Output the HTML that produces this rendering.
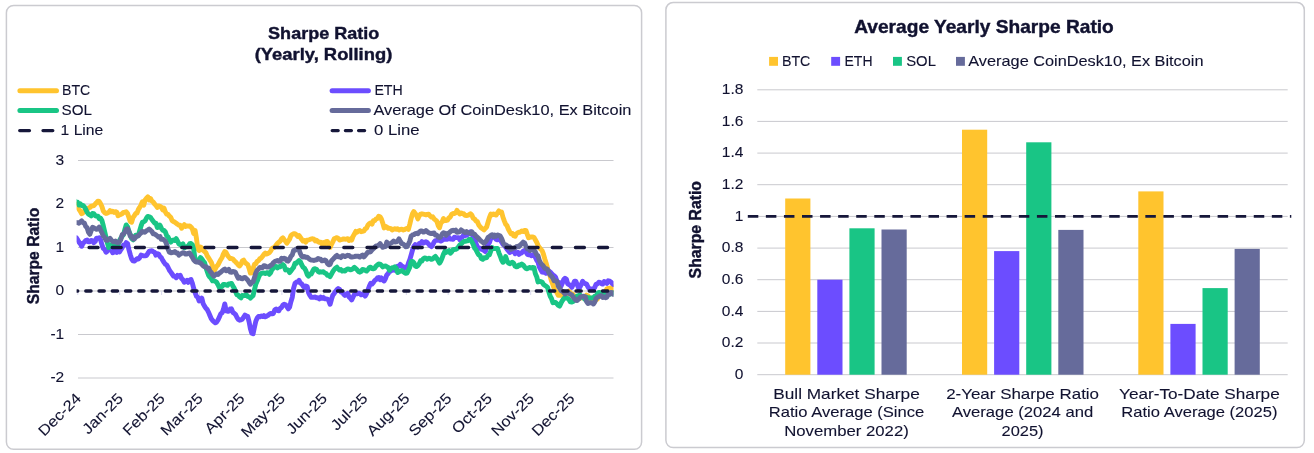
<!DOCTYPE html>
<html lang="en"><head><meta charset="utf-8"><title>Sharpe Ratio</title>
<style>html,body{margin:0;padding:0;background:#fff;}body{width:1314px;height:453px;overflow:hidden;position:relative;}svg{display:block;position:absolute;left:0;top:0;}text{font-family:"Liberation Sans", Arial, sans-serif;fill:#111230;}text{stroke:#111230;stroke-width:0.1px;}.b{font-weight:bold;stroke-width:0.4px;}</style></head><body>
<svg width="1314" height="453" viewBox="0 0 1314 453">
<rect x="0" y="0" width="1314" height="453" fill="#ffffff"/>
<rect x="6.4" y="5.4" width="635.2" height="443.9" rx="7.3" ry="7.3" fill="#fff" stroke="#cbcbd0" stroke-width="1.5"/>
<rect x="665.9" y="2.5" width="638.4" height="445.1" rx="7.3" ry="7.3" fill="#fff" stroke="#cbcbd0" stroke-width="1.5"/>
<text x="323.7" y="38.8" font-size="16.9" text-anchor="middle" class="b" textLength="111.2" lengthAdjust="spacingAndGlyphs">Sharpe Ratio</text>
<text x="323.5" y="60.0" font-size="16.9" text-anchor="middle" class="b" textLength="137.5" lengthAdjust="spacingAndGlyphs">(Yearly, Rolling)</text>
<line x1="19.9" y1="90.7" x2="56.5" y2="90.7" stroke="#ffc42e" stroke-width="5" stroke-linecap="round"/>
<line x1="19.9" y1="110.4" x2="56.5" y2="110.4" stroke="#19c585" stroke-width="5" stroke-linecap="round"/>
<line x1="19.7" y1="130.6" x2="53" y2="130.6" stroke="#16173a" stroke-width="3.3" stroke-linecap="round" stroke-dasharray="9.8 13.5"/>
<line x1="332.1" y1="90.7" x2="368.4" y2="90.7" stroke="#6c4dff" stroke-width="5" stroke-linecap="round"/>
<line x1="332.1" y1="110.4" x2="368.4" y2="110.4" stroke="#666b9b" stroke-width="5" stroke-linecap="round"/>
<line x1="332.2" y1="130.6" x2="366" y2="130.6" stroke="#16173a" stroke-width="3.3" stroke-linecap="round" stroke-dasharray="6 7.2"/>
<text x="62" y="95.4" font-size="14.8" text-anchor="start" textLength="28.3" lengthAdjust="spacingAndGlyphs">BTC</text>
<text x="61.6" y="114.6" font-size="14.8" text-anchor="start" textLength="30.4" lengthAdjust="spacingAndGlyphs">SOL</text>
<text x="60.6" y="134.5" font-size="14.8" text-anchor="start" textLength="42.7" lengthAdjust="spacingAndGlyphs">1 Line</text>
<text x="374.4" y="95.4" font-size="14.8" text-anchor="start" textLength="28.3" lengthAdjust="spacingAndGlyphs">ETH</text>
<text x="373.4" y="114.6" font-size="14.8" text-anchor="start" textLength="258" lengthAdjust="spacingAndGlyphs">Average Of CoinDesk10, Ex Bitcoin</text>
<text x="374.1" y="134.5" font-size="14.8" text-anchor="start" textLength="45.5" lengthAdjust="spacingAndGlyphs">0 Line</text>
<line x1="78" y1="160.5" x2="613.5" y2="160.5" stroke="#c9c9ce" stroke-width="1"/>
<text x="64.2" y="164.8" font-size="15.5" text-anchor="end">3</text>
<line x1="78" y1="204" x2="613.5" y2="204" stroke="#c9c9ce" stroke-width="1"/>
<text x="64.2" y="208.3" font-size="15.5" text-anchor="end">2</text>
<line x1="78" y1="247.5" x2="613.5" y2="247.5" stroke="#c9c9ce" stroke-width="1"/>
<text x="64.2" y="251.8" font-size="15.5" text-anchor="end">1</text>
<line x1="78" y1="291" x2="613.5" y2="291" stroke="#c9c9ce" stroke-width="1"/>
<text x="64.2" y="295.3" font-size="15.5" text-anchor="end">0</text>
<line x1="78" y1="334.5" x2="613.5" y2="334.5" stroke="#c9c9ce" stroke-width="1"/>
<text x="64.2" y="338.8" font-size="15.5" text-anchor="end">-1</text>
<line x1="78" y1="378" x2="613.5" y2="378" stroke="#c9c9ce" stroke-width="1"/>
<text x="64.2" y="382.3" font-size="15.5" text-anchor="end">-2</text>
<line x1="77.8" y1="291" x2="77.8" y2="295" stroke="#d9d9ee" stroke-width="1"/>
<line x1="119.7" y1="291" x2="119.7" y2="295" stroke="#d9d9ee" stroke-width="1"/>
<line x1="161.6" y1="291" x2="161.6" y2="295" stroke="#d9d9ee" stroke-width="1"/>
<line x1="199.5" y1="291" x2="199.5" y2="295" stroke="#d9d9ee" stroke-width="1"/>
<line x1="241.4" y1="291" x2="241.4" y2="295" stroke="#d9d9ee" stroke-width="1"/>
<line x1="281.9" y1="291" x2="281.9" y2="295" stroke="#d9d9ee" stroke-width="1"/>
<line x1="323.8" y1="291" x2="323.8" y2="295" stroke="#d9d9ee" stroke-width="1"/>
<line x1="364.4" y1="291" x2="364.4" y2="295" stroke="#d9d9ee" stroke-width="1"/>
<line x1="406.3" y1="291" x2="406.3" y2="295" stroke="#d9d9ee" stroke-width="1"/>
<line x1="448.2" y1="291" x2="448.2" y2="295" stroke="#d9d9ee" stroke-width="1"/>
<line x1="488.7" y1="291" x2="488.7" y2="295" stroke="#d9d9ee" stroke-width="1"/>
<line x1="530.7" y1="291" x2="530.7" y2="295" stroke="#d9d9ee" stroke-width="1"/>
<line x1="571.2" y1="291" x2="571.2" y2="295" stroke="#d9d9ee" stroke-width="1"/>
<text transform="translate(39.4,256) rotate(-90)" font-size="15.7" text-anchor="middle" class="b" textLength="96.4" lengthAdjust="spacingAndGlyphs">Sharpe Ratio</text>
<defs><clipPath id="plotclip"><rect x="76.6" y="150" width="536.9" height="240"/></clipPath></defs>
<g clip-path="url(#plotclip)">
<path d="M73.6,204.7 L74.9,205.8 L76.3,204.3 L77.6,207.4 L79.0,209.4 L80.3,211.2 L81.7,213.7 L83.0,212.7 L84.4,210.9 L85.7,210.1 L87.1,209.6 L88.4,208.0 L89.8,207.5 L91.1,206.1 L92.5,206.0 L93.8,205.6 L95.2,204.1 L96.5,202.8 L97.9,201.1 L99.2,201.4 L100.6,203.8 L101.9,206.5 L103.3,210.9 L104.6,212.6 L106.0,213.5 L107.3,213.1 L108.7,212.4 L110.0,210.6 L111.4,211.8 L112.7,211.3 L114.1,212.4 L115.4,211.6 L116.8,212.2 L118.1,215.8 L119.5,214.9 L120.8,214.5 L122.2,213.6 L123.5,212.4 L124.9,212.2 L126.2,211.8 L127.6,213.6 L128.9,217.4 L130.3,221.6 L131.6,222.2 L133.0,217.5 L134.3,215.8 L135.7,213.4 L137.0,213.1 L138.4,209.4 L139.7,207.4 L141.1,204.8 L142.4,201.7 L143.8,205.2 L145.1,200.0 L146.5,198.2 L147.8,196.8 L149.2,199.9 L150.5,198.5 L151.9,201.1 L153.2,202.0 L154.6,204.0 L155.9,205.4 L157.3,207.5 L158.6,205.9 L160.0,206.3 L161.3,207.3 L162.7,209.9 L164.0,208.2 L165.4,212.0 L166.7,214.2 L168.1,214.5 L169.4,216.2 L170.8,217.4 L172.1,220.7 L173.5,221.5 L174.8,222.2 L176.2,223.2 L177.5,224.2 L178.9,225.1 L180.2,225.2 L181.6,228.2 L182.9,226.5 L184.3,224.7 L185.6,226.5 L187.0,226.0 L188.3,226.2 L189.7,225.9 L191.0,227.0 L192.4,229.0 L193.7,233.5 L195.1,230.5 L196.4,238.0 L197.8,248.8 L199.1,250.5 L200.5,247.0 L201.8,248.0 L203.2,250.4 L204.5,251.5 L205.9,252.6 L207.2,255.8 L208.6,257.9 L209.9,260.1 L211.3,262.3 L212.6,266.0 L214.0,270.9 L215.3,269.0 L216.7,266.2 L218.0,264.9 L219.4,262.1 L220.7,259.7 L222.1,257.5 L223.4,253.9 L224.8,251.5 L226.1,252.5 L227.5,255.4 L228.8,257.0 L230.2,258.6 L231.5,258.5 L232.9,259.0 L234.2,260.6 L235.6,261.8 L236.9,263.3 L238.3,265.0 L239.6,266.0 L241.0,264.1 L242.3,260.9 L243.7,260.1 L245.0,262.4 L246.4,263.7 L247.7,264.5 L249.1,268.3 L250.4,273.1 L251.8,272.6 L253.1,268.2 L254.5,264.2 L255.8,263.7 L257.2,261.3 L258.5,260.8 L259.9,258.6 L261.2,258.1 L262.6,256.3 L263.9,254.4 L265.3,253.1 L266.6,254.1 L268.0,253.5 L269.3,252.7 L270.7,251.0 L272.0,248.4 L273.4,247.7 L274.7,247.2 L276.1,245.2 L277.4,243.4 L278.8,242.3 L280.1,241.3 L281.5,238.9 L282.8,237.8 L284.2,239.7 L285.5,241.3 L286.9,243.2 L288.2,241.2 L289.6,239.1 L290.9,235.6 L292.3,234.4 L293.6,233.8 L295.0,233.8 L296.3,234.8 L297.7,236.5 L299.0,235.5 L300.4,237.5 L301.8,239.5 L303.1,241.1 L304.5,240.5 L305.8,242.1 L307.2,240.2 L308.5,239.9 L309.9,239.5 L311.2,238.9 L312.6,238.8 L313.9,239.2 L315.3,240.9 L316.6,240.3 L318.0,241.6 L319.3,242.4 L320.7,242.2 L322.0,244.1 L323.4,242.5 L324.7,243.8 L326.1,241.7 L327.4,241.4 L328.8,245.4 L330.1,247.5 L331.5,244.3 L332.8,241.9 L334.2,238.8 L335.5,238.2 L336.9,237.6 L338.2,238.3 L339.6,240.1 L340.9,239.7 L342.3,239.4 L343.6,238.9 L345.0,239.2 L346.3,239.1 L347.7,238.7 L349.0,240.5 L350.4,239.1 L351.7,240.1 L353.1,236.2 L354.4,234.1 L355.8,231.4 L357.1,232.2 L358.5,231.0 L359.8,230.5 L361.2,231.7 L362.5,231.4 L363.9,231.0 L365.2,228.9 L366.6,228.1 L367.9,225.2 L369.3,223.7 L370.6,223.0 L372.0,224.2 L373.3,220.8 L374.7,220.6 L376.0,219.0 L377.4,218.4 L378.7,216.2 L380.1,216.7 L381.4,218.9 L382.8,223.2 L384.1,227.9 L385.5,226.4 L386.8,227.2 L388.2,228.4 L389.5,228.3 L390.9,228.6 L392.2,229.9 L393.6,229.3 L394.9,228.6 L396.3,229.3 L397.6,228.7 L399.0,230.0 L400.3,229.4 L401.7,229.2 L403.0,230.0 L404.4,229.7 L405.7,228.9 L407.1,228.3 L408.4,229.4 L409.8,224.1 L411.1,218.6 L412.5,213.8 L413.8,211.6 L415.2,213.4 L416.5,215.3 L417.9,218.9 L419.2,215.9 L420.6,214.1 L421.9,213.8 L423.3,214.1 L424.6,214.5 L426.0,214.9 L427.3,214.4 L428.7,214.1 L430.0,215.9 L431.4,217.0 L432.7,216.8 L434.1,218.9 L435.4,220.0 L436.8,221.1 L438.1,225.4 L439.5,227.8 L440.8,223.0 L442.2,221.7 L443.5,218.5 L444.9,220.7 L446.2,220.5 L447.6,220.1 L448.9,217.8 L450.3,217.0 L451.6,214.4 L453.0,213.5 L454.3,213.5 L455.7,212.8 L457.0,210.4 L458.4,212.4 L459.7,213.9 L461.1,212.9 L462.4,213.7 L463.8,213.8 L465.1,215.3 L466.5,215.5 L467.8,215.3 L469.2,214.7 L470.5,213.7 L471.9,215.2 L473.2,218.3 L474.6,218.9 L475.9,220.9 L477.3,221.5 L478.6,224.7 L480.0,226.6 L481.3,228.0 L482.7,228.9 L484.0,230.0 L485.4,228.3 L486.7,226.8 L488.1,222.0 L489.4,217.6 L490.8,214.1 L492.1,214.8 L493.5,214.0 L494.8,214.7 L496.2,215.1 L497.5,212.9 L498.9,210.9 L500.2,212.5 L501.6,212.0 L502.9,217.0 L504.3,220.8 L505.6,224.1 L507.0,225.7 L508.3,229.0 L509.7,231.7 L511.0,233.8 L512.4,233.4 L513.7,235.8 L515.1,236.3 L516.4,233.7 L517.8,232.8 L519.1,232.2 L520.5,232.0 L521.8,230.9 L523.2,231.6 L524.5,230.4 L525.9,230.4 L527.2,234.1 L528.6,237.8 L529.9,237.2 L531.3,236.9 L532.6,237.0 L534.0,237.3 L535.3,239.8 L536.7,242.3 L538.0,245.3 L539.4,247.5 L540.7,249.2 L542.1,250.7 L543.4,254.0 L544.8,258.9 L546.1,262.9 L547.5,267.8 L548.8,273.1 L550.2,276.3 L551.5,281.0 L552.9,284.7 L554.2,288.7 L555.6,291.0 L556.9,292.4 L558.3,295.4 L559.6,295.2 L561.0,295.3 L562.3,294.9 L563.7,295.3 L565.0,293.9 L566.4,294.3 L567.7,293.0 L569.1,291.2 L570.4,292.8 L571.8,295.6 L573.1,294.4 L574.5,296.8 L575.8,296.9 L577.2,297.7 L578.5,298.3 L579.9,298.6 L581.2,297.7 L582.6,297.9 L583.9,297.5 L585.3,297.2 L586.6,295.1 L588.0,295.9 L589.3,297.9 L590.7,301.0 L592.0,300.2 L593.4,300.9 L594.7,299.8 L596.1,299.9 L597.4,299.0 L598.8,295.6 L600.1,292.7 L601.5,294.1 L602.8,295.2 L604.2,293.3 L605.5,292.0 L606.9,288.8 L608.2,288.4 L609.6,288.4 L610.9,287.9 L612.3,289.6 L613.6,288.1 L615.0,286.3 L616.3,287.9 L616.3,288.5" fill="none" stroke="#ffc42e" stroke-width="4.9" stroke-linejoin="round" stroke-linecap="butt"/>
<path d="M73.6,238.0 L74.9,238.4 L76.3,237.8 L77.6,239.6 L79.0,242.1 L80.3,243.7 L81.7,246.3 L83.0,243.2 L84.4,242.1 L85.7,240.5 L87.1,240.0 L88.4,241.8 L89.8,241.9 L91.1,240.5 L92.5,240.6 L93.8,242.7 L95.2,241.5 L96.5,238.2 L97.9,238.3 L99.2,237.8 L100.6,240.0 L101.9,244.6 L103.3,248.5 L104.6,249.3 L106.0,252.2 L107.3,251.3 L108.7,249.6 L110.0,248.6 L111.4,249.8 L112.7,252.7 L114.1,252.0 L115.4,251.1 L116.8,252.4 L118.1,250.6 L119.5,251.9 L120.8,249.7 L122.2,247.8 L123.5,244.9 L124.9,244.9 L126.2,242.6 L127.6,243.7 L128.9,249.6 L130.3,254.7 L131.6,258.8 L133.0,260.9 L134.3,261.1 L135.7,260.0 L137.0,258.7 L138.4,259.0 L139.7,257.7 L141.1,255.1 L142.4,255.5 L143.8,255.9 L145.1,255.8 L146.5,255.6 L147.8,253.4 L149.2,251.3 L150.5,250.9 L151.9,250.8 L153.2,251.8 L154.6,252.3 L155.9,255.1 L157.3,253.6 L158.6,254.0 L160.0,256.6 L161.3,257.7 L162.7,260.3 L164.0,262.4 L165.4,264.3 L166.7,264.9 L168.1,267.5 L169.4,270.2 L170.8,272.1 L172.1,274.0 L173.5,276.0 L174.8,276.3 L176.2,277.7 L177.5,275.4 L178.9,276.3 L180.2,275.3 L181.6,278.4 L182.9,279.7 L184.3,282.2 L185.6,281.7 L187.0,280.4 L188.3,282.3 L189.7,280.2 L191.0,279.5 L192.4,283.4 L193.7,288.3 L195.1,292.7 L196.4,296.2 L197.8,297.2 L199.1,301.0 L200.5,300.1 L201.8,298.2 L203.2,303.8 L204.5,306.1 L205.9,308.3 L207.2,309.6 L208.6,312.3 L209.9,315.5 L211.3,318.8 L212.6,320.4 L214.0,321.8 L215.3,322.8 L216.7,322.0 L218.0,320.0 L219.4,316.9 L220.7,313.9 L222.1,312.8 L223.4,309.5 L224.8,303.9 L226.1,310.8 L227.5,311.2 L228.8,311.2 L230.2,309.0 L231.5,308.8 L232.9,312.4 L234.2,313.3 L235.6,314.6 L236.9,317.3 L238.3,319.4 L239.6,320.2 L241.0,319.8 L242.3,319.2 L243.7,317.2 L245.0,315.1 L246.4,316.0 L247.7,316.3 L249.1,321.9 L250.4,328.7 L251.8,333.3 L253.1,333.8 L254.5,327.1 L255.8,321.2 L257.2,318.1 L258.5,316.4 L259.9,316.9 L261.2,315.9 L262.6,316.6 L263.9,315.6 L265.3,316.8 L266.6,316.2 L268.0,315.4 L269.3,314.2 L270.7,313.5 L272.0,313.8 L273.4,313.5 L274.7,310.0 L276.1,309.0 L277.4,310.4 L278.8,310.8 L280.1,308.3 L281.5,307.5 L282.8,305.3 L284.2,304.2 L285.5,304.7 L286.9,306.7 L288.2,308.8 L289.6,307.2 L290.9,301.7 L292.3,297.2 L293.6,288.1 L295.0,283.4 L296.3,282.2 L297.7,281.8 L299.0,280.4 L300.4,283.1 L301.8,283.9 L303.1,286.1 L304.5,287.4 L305.8,286.0 L307.2,286.5 L308.5,292.6 L309.9,295.4 L311.2,297.2 L312.6,297.4 L313.9,297.3 L315.3,297.0 L316.6,297.8 L318.0,297.8 L319.3,298.9 L320.7,297.2 L322.0,298.2 L323.4,297.5 L324.7,298.9 L326.1,298.9 L327.4,299.1 L328.8,300.8 L330.1,304.3 L331.5,299.3 L332.8,295.2 L334.2,293.4 L335.5,291.5 L336.9,289.7 L338.2,288.6 L339.6,289.4 L340.9,292.0 L342.3,292.2 L343.6,294.1 L345.0,295.4 L346.3,294.7 L347.7,293.3 L349.0,296.9 L350.4,298.2 L351.7,299.9 L353.1,297.0 L354.4,294.4 L355.8,293.8 L357.1,293.8 L358.5,293.1 L359.8,293.6 L361.2,294.8 L362.5,294.4 L363.9,293.4 L365.2,296.1 L366.6,293.5 L367.9,290.0 L369.3,286.3 L370.6,283.4 L372.0,284.1 L373.3,282.6 L374.7,280.5 L376.0,279.7 L377.4,277.9 L378.7,277.5 L380.1,279.7 L381.4,277.9 L382.8,280.0 L384.1,281.0 L385.5,278.5 L386.8,274.9 L388.2,273.5 L389.5,271.3 L390.9,271.0 L392.2,268.8 L393.6,269.9 L394.9,270.3 L396.3,268.3 L397.6,266.2 L399.0,266.2 L400.3,264.4 L401.7,266.0 L403.0,266.7 L404.4,267.9 L405.7,267.0 L407.1,267.4 L408.4,263.1 L409.8,259.6 L411.1,255.2 L412.5,250.1 L413.8,246.5 L415.2,244.6 L416.5,245.0 L417.9,247.0 L419.2,243.5 L420.6,243.4 L421.9,241.6 L423.3,243.2 L424.6,242.5 L426.0,241.7 L427.3,242.6 L428.7,244.1 L430.0,245.6 L431.4,246.6 L432.7,245.1 L434.1,241.9 L435.4,240.6 L436.8,240.4 L438.1,240.3 L439.5,240.0 L440.8,241.1 L442.2,240.3 L443.5,239.4 L444.9,239.1 L446.2,239.2 L447.6,239.2 L448.9,237.3 L450.3,239.1 L451.6,239.1 L453.0,239.3 L454.3,237.3 L455.7,237.5 L457.0,237.6 L458.4,237.7 L459.7,239.6 L461.1,237.6 L462.4,237.1 L463.8,234.7 L465.1,235.5 L466.5,235.4 L467.8,234.3 L469.2,233.4 L470.5,231.8 L471.9,233.2 L473.2,237.3 L474.6,238.1 L475.9,243.3 L477.3,246.7 L478.6,247.8 L480.0,248.3 L481.3,249.2 L482.7,249.7 L484.0,250.5 L485.4,251.6 L486.7,247.7 L488.1,244.4 L489.4,242.6 L490.8,238.5 L492.1,237.1 L493.5,237.2 L494.8,237.7 L496.2,239.5 L497.5,239.9 L498.9,239.1 L500.2,239.1 L501.6,242.1 L502.9,244.4 L504.3,245.3 L505.6,247.2 L507.0,249.2 L508.3,250.8 L509.7,252.5 L511.0,251.9 L512.4,251.1 L513.7,250.7 L515.1,253.7 L516.4,252.9 L517.8,252.3 L519.1,254.3 L520.5,253.2 L521.8,252.8 L523.2,251.1 L524.5,250.4 L525.9,251.7 L527.2,254.2 L528.6,254.9 L529.9,254.5 L531.3,255.8 L532.6,255.2 L534.0,254.2 L535.3,257.3 L536.7,260.3 L538.0,262.0 L539.4,267.0 L540.7,269.5 L542.1,272.1 L543.4,272.2 L544.8,271.8 L546.1,273.3 L547.5,272.3 L548.8,271.0 L550.2,272.0 L551.5,273.4 L552.9,274.9 L554.2,275.8 L555.6,277.2 L556.9,281.0 L558.3,282.3 L559.6,282.7 L561.0,286.4 L562.3,283.4 L563.7,279.5 L565.0,278.2 L566.4,279.2 L567.7,283.9 L569.1,284.7 L570.4,285.5 L571.8,287.3 L573.1,284.7 L574.5,281.2 L575.8,281.2 L577.2,284.6 L578.5,287.7 L579.9,287.1 L581.2,284.6 L582.6,281.3 L583.9,282.8 L585.3,283.7 L586.6,284.1 L588.0,287.0 L589.3,288.7 L590.7,288.9 L592.0,289.2 L593.4,288.9 L594.7,287.5 L596.1,284.1 L597.4,284.0 L598.8,282.3 L600.1,282.4 L601.5,283.6 L602.8,284.1 L604.2,281.6 L605.5,282.1 L606.9,283.3 L608.2,280.8 L609.6,281.2 L610.9,282.0 L612.3,283.5 L613.6,284.5 L615.0,283.3 L616.3,284.6 L616.3,282.3" fill="none" stroke="#6c4dff" stroke-width="4.9" stroke-linejoin="round" stroke-linecap="butt"/>
<path d="M73.6,201.3 L74.9,200.9 L76.3,202.3 L77.6,202.3 L79.0,205.0 L80.3,203.8 L81.7,205.5 L83.0,205.4 L84.4,206.9 L85.7,209.2 L87.1,212.2 L88.4,213.9 L89.8,214.9 L91.1,215.9 L92.5,213.5 L93.8,213.6 L95.2,215.6 L96.5,216.1 L97.9,216.1 L99.2,218.7 L100.6,218.2 L101.9,220.5 L103.3,225.7 L104.6,231.3 L106.0,237.4 L107.3,242.5 L108.7,247.5 L110.0,245.9 L111.4,244.6 L112.7,244.0 L114.1,245.2 L115.4,243.8 L116.8,242.8 L118.1,244.9 L119.5,240.4 L120.8,238.2 L122.2,236.1 L123.5,234.6 L124.9,229.4 L126.2,224.9 L127.6,226.9 L128.9,231.2 L130.3,234.7 L131.6,238.5 L133.0,239.8 L134.3,237.6 L135.7,235.2 L137.0,236.0 L138.4,235.2 L139.7,230.7 L141.1,225.9 L142.4,222.3 L143.8,221.7 L145.1,220.8 L146.5,218.0 L147.8,216.4 L149.2,216.8 L150.5,217.4 L151.9,219.5 L153.2,221.2 L154.6,223.0 L155.9,223.1 L157.3,227.5 L158.6,227.2 L160.0,225.2 L161.3,228.1 L162.7,230.3 L164.0,230.5 L165.4,232.0 L166.7,235.7 L168.1,237.0 L169.4,239.7 L170.8,242.1 L172.1,240.6 L173.5,240.0 L174.8,240.5 L176.2,238.7 L177.5,241.0 L178.9,243.9 L180.2,244.7 L181.6,244.9 L182.9,243.8 L184.3,247.8 L185.6,247.0 L187.0,246.6 L188.3,245.9 L189.7,243.7 L191.0,243.5 L192.4,244.8 L193.7,249.7 L195.1,259.4 L196.4,260.1 L197.8,260.7 L199.1,260.0 L200.5,257.6 L201.8,258.9 L203.2,261.0 L204.5,262.5 L205.9,267.6 L207.2,271.4 L208.6,275.4 L209.9,277.2 L211.3,278.7 L212.6,280.9 L214.0,280.8 L215.3,281.4 L216.7,282.3 L218.0,284.8 L219.4,287.7 L220.7,287.1 L222.1,286.5 L223.4,284.4 L224.8,284.4 L226.1,285.0 L227.5,285.4 L228.8,283.9 L230.2,283.7 L231.5,283.4 L232.9,286.2 L234.2,288.2 L235.6,291.7 L236.9,294.7 L238.3,295.3 L239.6,296.8 L241.0,297.9 L242.3,295.4 L243.7,295.6 L245.0,295.5 L246.4,294.7 L247.7,296.4 L249.1,296.8 L250.4,298.2 L251.8,296.7 L253.1,295.4 L254.5,289.6 L255.8,284.2 L257.2,281.1 L258.5,277.6 L259.9,274.5 L261.2,273.5 L262.6,273.2 L263.9,272.9 L265.3,273.5 L266.6,272.8 L268.0,272.6 L269.3,274.3 L270.7,272.6 L272.0,269.3 L273.4,268.2 L274.7,266.8 L276.1,266.5 L277.4,267.9 L278.8,266.6 L280.1,266.8 L281.5,265.6 L282.8,264.6 L284.2,265.9 L285.5,269.9 L286.9,269.6 L288.2,270.0 L289.6,272.6 L290.9,270.9 L292.3,269.0 L293.6,267.4 L295.0,263.3 L296.3,263.3 L297.7,261.7 L299.0,260.5 L300.4,261.8 L301.8,265.0 L303.1,267.3 L304.5,268.2 L305.8,270.4 L307.2,274.6 L308.5,276.1 L309.9,273.9 L311.2,274.1 L312.6,271.3 L313.9,269.0 L315.3,268.8 L316.6,269.5 L318.0,271.4 L319.3,272.3 L320.7,271.8 L322.0,272.0 L323.4,271.8 L324.7,273.0 L326.1,273.5 L327.4,275.2 L328.8,275.4 L330.1,276.6 L331.5,274.1 L332.8,271.6 L334.2,269.6 L335.5,268.2 L336.9,267.2 L338.2,268.9 L339.6,270.1 L340.9,269.5 L342.3,271.1 L343.6,270.7 L345.0,271.0 L346.3,269.6 L347.7,268.9 L349.0,269.2 L350.4,269.9 L351.7,269.5 L353.1,268.6 L354.4,267.3 L355.8,268.5 L357.1,269.7 L358.5,271.5 L359.8,272.2 L361.2,271.4 L362.5,269.5 L363.9,269.7 L365.2,270.3 L366.6,271.1 L367.9,269.7 L369.3,267.5 L370.6,267.1 L372.0,268.7 L373.3,268.9 L374.7,268.2 L376.0,266.1 L377.4,265.0 L378.7,264.0 L380.1,264.1 L381.4,265.3 L382.8,266.9 L384.1,266.1 L385.5,266.0 L386.8,266.7 L388.2,267.4 L389.5,270.3 L390.9,268.4 L392.2,267.8 L393.6,267.7 L394.9,266.7 L396.3,268.3 L397.6,272.6 L399.0,271.9 L400.3,271.2 L401.7,270.5 L403.0,271.6 L404.4,272.6 L405.7,273.3 L407.1,273.1 L408.4,270.2 L409.8,267.2 L411.1,261.5 L412.5,261.4 L413.8,262.5 L415.2,265.8 L416.5,266.6 L417.9,265.5 L419.2,263.8 L420.6,260.8 L421.9,261.1 L423.3,258.6 L424.6,258.0 L426.0,258.2 L427.3,259.2 L428.7,258.3 L430.0,258.4 L431.4,259.4 L432.7,259.0 L434.1,257.4 L435.4,256.4 L436.8,258.4 L438.1,260.5 L439.5,263.1 L440.8,261.1 L442.2,257.7 L443.5,254.2 L444.9,251.4 L446.2,252.4 L447.6,251.3 L448.9,250.5 L450.3,253.2 L451.6,251.9 L453.0,249.7 L454.3,249.5 L455.7,249.4 L457.0,248.6 L458.4,247.0 L459.7,245.1 L461.1,243.9 L462.4,242.7 L463.8,241.5 L465.1,241.4 L466.5,240.9 L467.8,240.8 L469.2,239.3 L470.5,239.4 L471.9,241.9 L473.2,244.3 L474.6,248.2 L475.9,249.6 L477.3,252.5 L478.6,254.7 L480.0,255.4 L481.3,258.6 L482.7,259.3 L484.0,257.8 L485.4,258.0 L486.7,257.6 L488.1,255.1 L489.4,254.8 L490.8,251.0 L492.1,247.6 L493.5,248.6 L494.8,248.6 L496.2,248.4 L497.5,248.5 L498.9,252.8 L500.2,256.0 L501.6,260.0 L502.9,262.3 L504.3,261.1 L505.6,256.6 L507.0,260.6 L508.3,262.9 L509.7,263.8 L511.0,263.0 L512.4,262.3 L513.7,263.2 L515.1,266.1 L516.4,266.8 L517.8,266.5 L519.1,264.9 L520.5,265.2 L521.8,264.1 L523.2,265.0 L524.5,266.8 L525.9,268.4 L527.2,268.8 L528.6,267.8 L529.9,267.5 L531.3,268.1 L532.6,267.4 L534.0,267.6 L535.3,273.6 L536.7,276.7 L538.0,281.9 L539.4,281.3 L540.7,281.7 L542.1,282.1 L543.4,284.3 L544.8,285.4 L546.1,286.1 L547.5,287.3 L548.8,291.8 L550.2,296.2 L551.5,298.5 L552.9,302.7 L554.2,302.3 L555.6,302.4 L556.9,303.7 L558.3,305.4 L559.6,306.1 L561.0,303.2 L562.3,300.7 L563.7,298.8 L565.0,297.2 L566.4,298.1 L567.7,298.3 L569.1,299.7 L570.4,301.9 L571.8,302.1 L573.1,301.5 L574.5,300.1 L575.8,297.4 L577.2,295.9 L578.5,296.1 L579.9,294.8 L581.2,296.6 L582.6,297.2 L583.9,298.3 L585.3,299.6 L586.6,297.2 L588.0,298.2 L589.3,297.8 L590.7,298.2 L592.0,297.8 L593.4,298.1 L594.7,296.3 L596.1,296.3 L597.4,293.5 L598.8,292.4 L600.1,292.9 L601.5,294.2 L602.8,294.3 L604.2,294.3 L605.5,293.9 L606.9,292.5 L608.2,294.1 L609.6,294.2 L610.9,293.8 L612.3,293.6 L613.6,292.7 L615.0,292.5 L616.3,293.5 L616.3,293.0" fill="none" stroke="#19c585" stroke-width="4.9" stroke-linejoin="round" stroke-linecap="butt"/>
<path d="M73.6,224.3 L74.9,222.5 L76.3,222.6 L77.6,222.6 L79.0,223.2 L80.3,222.1 L81.7,220.8 L83.0,222.7 L84.4,223.1 L85.7,226.5 L87.1,227.7 L88.4,232.1 L89.8,234.3 L91.1,230.8 L92.5,227.3 L93.8,227.8 L95.2,228.7 L96.5,229.4 L97.9,228.6 L99.2,227.1 L100.6,230.3 L101.9,232.6 L103.3,236.1 L104.6,237.2 L106.0,240.3 L107.3,240.4 L108.7,239.1 L110.0,238.3 L111.4,240.0 L112.7,241.5 L114.1,241.8 L115.4,241.0 L116.8,242.4 L118.1,242.6 L119.5,241.8 L120.8,239.7 L122.2,234.7 L123.5,234.0 L124.9,232.3 L126.2,229.2 L127.6,228.7 L128.9,231.8 L130.3,236.2 L131.6,236.0 L133.0,239.0 L134.3,239.1 L135.7,237.1 L137.0,236.2 L138.4,235.8 L139.7,234.1 L141.1,232.9 L142.4,231.3 L143.8,232.1 L145.1,232.2 L146.5,230.7 L147.8,230.1 L149.2,229.1 L150.5,230.2 L151.9,231.5 L153.2,233.9 L154.6,234.0 L155.9,234.8 L157.3,236.0 L158.6,237.1 L160.0,236.6 L161.3,239.4 L162.7,239.1 L164.0,239.9 L165.4,241.3 L166.7,244.5 L168.1,249.2 L169.4,252.3 L170.8,252.8 L172.1,252.5 L173.5,252.4 L174.8,251.6 L176.2,253.0 L177.5,253.0 L178.9,255.1 L180.2,254.2 L181.6,253.4 L182.9,252.8 L184.3,252.9 L185.6,254.1 L187.0,254.0 L188.3,253.1 L189.7,253.0 L191.0,255.1 L192.4,257.4 L193.7,259.9 L195.1,261.5 L196.4,262.1 L197.8,261.8 L199.1,262.5 L200.5,263.1 L201.8,264.3 L203.2,265.8 L204.5,266.6 L205.9,266.6 L207.2,268.4 L208.6,267.9 L209.9,271.2 L211.3,272.6 L212.6,274.8 L214.0,276.1 L215.3,274.8 L216.7,274.0 L218.0,274.5 L219.4,273.0 L220.7,272.3 L222.1,270.9 L223.4,269.9 L224.8,269.0 L226.1,270.8 L227.5,270.6 L228.8,269.4 L230.2,272.1 L231.5,272.2 L232.9,271.5 L234.2,271.6 L235.6,272.6 L236.9,275.6 L238.3,278.3 L239.6,277.2 L241.0,278.6 L242.3,278.7 L243.7,277.6 L245.0,277.4 L246.4,278.7 L247.7,280.0 L249.1,282.3 L250.4,284.2 L251.8,282.3 L253.1,281.8 L254.5,277.4 L255.8,273.0 L257.2,270.2 L258.5,269.0 L259.9,267.5 L261.2,267.5 L262.6,267.7 L263.9,265.7 L265.3,266.0 L266.6,267.0 L268.0,267.1 L269.3,266.3 L270.7,265.4 L272.0,264.7 L273.4,262.6 L274.7,261.6 L276.1,261.0 L277.4,260.5 L278.8,261.3 L280.1,261.2 L281.5,258.2 L282.8,259.0 L284.2,258.2 L285.5,258.7 L286.9,260.8 L288.2,261.2 L289.6,259.2 L290.9,256.2 L292.3,254.9 L293.6,250.5 L295.0,250.4 L296.3,248.9 L297.7,249.4 L299.0,249.5 L300.4,253.7 L301.8,256.3 L303.1,257.1 L304.5,256.5 L305.8,257.4 L307.2,257.2 L308.5,258.3 L309.9,259.5 L311.2,260.1 L312.6,260.1 L313.9,260.5 L315.3,260.0 L316.6,259.8 L318.0,258.4 L319.3,259.2 L320.7,259.3 L322.0,260.9 L323.4,260.6 L324.7,260.0 L326.1,260.7 L327.4,263.4 L328.8,264.8 L330.1,264.4 L331.5,260.8 L332.8,259.5 L334.2,258.1 L335.5,256.5 L336.9,255.4 L338.2,256.8 L339.6,256.7 L340.9,257.6 L342.3,255.8 L343.6,255.8 L345.0,256.6 L346.3,255.9 L347.7,255.3 L349.0,255.5 L350.4,256.6 L351.7,257.1 L353.1,256.9 L354.4,256.7 L355.8,256.1 L357.1,256.2 L358.5,256.3 L359.8,257.1 L361.2,255.9 L362.5,255.1 L363.9,256.9 L365.2,255.6 L366.6,253.8 L367.9,252.1 L369.3,252.1 L370.6,251.6 L372.0,249.9 L373.3,248.7 L374.7,247.3 L376.0,246.0 L377.4,246.0 L378.7,245.1 L380.1,243.6 L381.4,245.7 L382.8,247.3 L384.1,246.7 L385.5,246.6 L386.8,242.0 L388.2,245.1 L389.5,243.8 L390.9,243.1 L392.2,242.4 L393.6,241.1 L394.9,242.0 L396.3,241.9 L397.6,241.0 L399.0,238.9 L400.3,241.3 L401.7,243.7 L403.0,243.9 L404.4,244.9 L405.7,246.7 L407.1,246.6 L408.4,244.2 L409.8,241.0 L411.1,236.2 L412.5,235.0 L413.8,234.7 L415.2,233.6 L416.5,233.3 L417.9,233.8 L419.2,232.1 L420.6,231.0 L421.9,231.0 L423.3,232.1 L424.6,231.8 L426.0,230.5 L427.3,231.7 L428.7,232.7 L430.0,233.3 L431.4,233.6 L432.7,233.1 L434.1,233.0 L435.4,235.1 L436.8,235.3 L438.1,236.9 L439.5,237.5 L440.8,236.8 L442.2,234.0 L443.5,232.7 L444.9,233.3 L446.2,235.3 L447.6,233.4 L448.9,233.1 L450.3,231.7 L451.6,230.7 L453.0,230.3 L454.3,230.9 L455.7,230.0 L457.0,232.2 L458.4,232.0 L459.7,231.7 L461.1,229.9 L462.4,230.9 L463.8,231.8 L465.1,232.5 L466.5,231.6 L467.8,232.5 L469.2,232.9 L470.5,233.4 L471.9,231.9 L473.2,233.7 L474.6,234.3 L475.9,236.0 L477.3,237.1 L478.6,238.5 L480.0,240.0 L481.3,241.3 L482.7,242.2 L484.0,243.2 L485.4,241.9 L486.7,240.3 L488.1,237.4 L489.4,236.6 L490.8,235.4 L492.1,234.7 L493.5,236.7 L494.8,235.1 L496.2,236.2 L497.5,235.0 L498.9,235.3 L500.2,236.0 L501.6,238.4 L502.9,241.9 L504.3,245.0 L505.6,244.6 L507.0,245.7 L508.3,247.6 L509.7,246.8 L511.0,249.4 L512.4,248.7 L513.7,248.1 L515.1,247.9 L516.4,246.7 L517.8,246.3 L519.1,246.7 L520.5,244.7 L521.8,243.7 L523.2,242.1 L524.5,242.8 L525.9,246.1 L527.2,248.8 L528.6,249.1 L529.9,250.4 L531.3,248.9 L532.6,249.9 L534.0,250.3 L535.3,251.9 L536.7,254.8 L538.0,255.7 L539.4,260.6 L540.7,263.0 L542.1,264.7 L543.4,266.2 L544.8,268.3 L546.1,268.7 L547.5,269.5 L548.8,272.6 L550.2,274.9 L551.5,276.2 L552.9,278.2 L554.2,280.9 L555.6,280.6 L556.9,281.2 L558.3,286.2 L559.6,287.9 L561.0,290.7 L562.3,291.2 L563.7,292.4 L565.0,294.1 L566.4,293.0 L567.7,292.5 L569.1,293.4 L570.4,294.2 L571.8,294.7 L573.1,297.2 L574.5,298.5 L575.8,300.3 L577.2,300.5 L578.5,299.3 L579.9,297.7 L581.2,296.6 L582.6,296.4 L583.9,296.1 L585.3,296.8 L586.6,301.6 L588.0,303.5 L589.3,303.0 L590.7,302.7 L592.0,302.9 L593.4,304.0 L594.7,302.1 L596.1,298.4 L597.4,297.4 L598.8,296.6 L600.1,295.8 L601.5,295.8 L602.8,297.5 L604.2,296.9 L605.5,297.8 L606.9,297.2 L608.2,293.8 L609.6,294.2 L610.9,292.5 L612.3,292.6 L613.6,294.5 L615.0,293.9 L616.3,294.4 L616.3,293.8" fill="none" stroke="#666b9b" stroke-width="4.9" stroke-linejoin="round" stroke-linecap="butt"/>
</g>
<g clip-path="url(#plotclip)">
<line x1="77" y1="247.5" x2="613.5" y2="247.5" stroke="#16173a" stroke-width="3.3" stroke-linecap="round" stroke-dasharray="9 14.16" stroke-dashoffset="11.11"/>
<line x1="77" y1="291" x2="613.5" y2="291" stroke="#16173a" stroke-width="3.3" stroke-linecap="round" stroke-dasharray="5.3 7.95" stroke-dashoffset="4.50"/>
</g>
<text transform="translate(82.0,399.3) rotate(-45)" font-size="14.8" text-anchor="end" textLength="53.4" lengthAdjust="spacingAndGlyphs">Dec-24</text>
<text transform="translate(123.9,399.3) rotate(-45)" font-size="14.8" text-anchor="end" textLength="50.6" lengthAdjust="spacingAndGlyphs">Jan-25</text>
<text transform="translate(165.8,399.3) rotate(-45)" font-size="14.8" text-anchor="end" textLength="52.5" lengthAdjust="spacingAndGlyphs">Feb-25</text>
<text transform="translate(203.7,399.3) rotate(-45)" font-size="14.8" text-anchor="end" textLength="52.5" lengthAdjust="spacingAndGlyphs">Mar-25</text>
<text transform="translate(245.6,399.3) rotate(-45)" font-size="14.8" text-anchor="end" textLength="49.7" lengthAdjust="spacingAndGlyphs">Apr-25</text>
<text transform="translate(286.1,399.3) rotate(-45)" font-size="14.8" text-anchor="end" textLength="55.2" lengthAdjust="spacingAndGlyphs">May-25</text>
<text transform="translate(328.0,399.3) rotate(-45)" font-size="14.8" text-anchor="end" textLength="50.6" lengthAdjust="spacingAndGlyphs">Jun-25</text>
<text transform="translate(368.6,399.3) rotate(-45)" font-size="14.8" text-anchor="end" textLength="45.1" lengthAdjust="spacingAndGlyphs">Jul-25</text>
<text transform="translate(410.5,399.3) rotate(-45)" font-size="14.8" text-anchor="end" textLength="53.4" lengthAdjust="spacingAndGlyphs">Aug-25</text>
<text transform="translate(452.4,399.3) rotate(-45)" font-size="14.8" text-anchor="end" textLength="53.4" lengthAdjust="spacingAndGlyphs">Sep-25</text>
<text transform="translate(492.9,399.3) rotate(-45)" font-size="14.8" text-anchor="end" textLength="49.7" lengthAdjust="spacingAndGlyphs">Oct-25</text>
<text transform="translate(534.9,399.3) rotate(-45)" font-size="14.8" text-anchor="end" textLength="53.4" lengthAdjust="spacingAndGlyphs">Nov-25</text>
<text transform="translate(575.4,399.3) rotate(-45)" font-size="14.8" text-anchor="end" textLength="53.4" lengthAdjust="spacingAndGlyphs">Dec-25</text>
<text x="984" y="33.0" font-size="18.5" text-anchor="middle" class="b" textLength="259.6" lengthAdjust="spacingAndGlyphs">Average Yearly Sharpe Ratio</text>
<rect x="769.1" y="56.9" width="8.9" height="8.9" fill="#ffc42e"/>
<text x="781.9" y="65.7" font-size="14.8" text-anchor="start" textLength="28.5" lengthAdjust="spacingAndGlyphs">BTC</text>
<rect x="831.2" y="56.9" width="8.9" height="8.9" fill="#6c4dff"/>
<text x="844.5" y="65.7" font-size="14.8" text-anchor="start" textLength="28" lengthAdjust="spacingAndGlyphs">ETH</text>
<rect x="893" y="56.9" width="8.9" height="8.9" fill="#19c585"/>
<text x="906.2" y="65.7" font-size="14.8" text-anchor="start" textLength="29.7" lengthAdjust="spacingAndGlyphs">SOL</text>
<rect x="956" y="56.9" width="8.9" height="8.9" fill="#666b9b"/>
<text x="968.3" y="65.7" font-size="14.8" text-anchor="start" textLength="235.2" lengthAdjust="spacingAndGlyphs">Average CoinDesk10, Ex Bitcoin</text>
<line x1="757.3" y1="374.7" x2="1287.7" y2="374.7" stroke="#c9c9ce" stroke-width="1"/>
<text x="743.4" y="378.8" font-size="15.5" text-anchor="end">0</text>
<line x1="757.3" y1="343.0" x2="1287.7" y2="343.0" stroke="#c9c9ce" stroke-width="1"/>
<text x="743.4" y="347.1" font-size="15.5" text-anchor="end">0.2</text>
<line x1="757.3" y1="311.4" x2="1287.7" y2="311.4" stroke="#c9c9ce" stroke-width="1"/>
<text x="743.4" y="315.5" font-size="15.5" text-anchor="end">0.4</text>
<line x1="757.3" y1="279.7" x2="1287.7" y2="279.7" stroke="#c9c9ce" stroke-width="1"/>
<text x="743.4" y="283.8" font-size="15.5" text-anchor="end">0.6</text>
<line x1="757.3" y1="248.1" x2="1287.7" y2="248.1" stroke="#c9c9ce" stroke-width="1"/>
<text x="743.4" y="252.2" font-size="15.5" text-anchor="end">0.8</text>
<line x1="757.3" y1="216.4" x2="1287.7" y2="216.4" stroke="#c9c9ce" stroke-width="1"/>
<text x="743.4" y="220.5" font-size="15.5" text-anchor="end">1</text>
<line x1="757.3" y1="184.7" x2="1287.7" y2="184.7" stroke="#c9c9ce" stroke-width="1"/>
<text x="743.4" y="188.8" font-size="15.5" text-anchor="end">1.2</text>
<line x1="757.3" y1="153.1" x2="1287.7" y2="153.1" stroke="#c9c9ce" stroke-width="1"/>
<text x="743.4" y="157.2" font-size="15.5" text-anchor="end">1.4</text>
<line x1="757.3" y1="121.4" x2="1287.7" y2="121.4" stroke="#c9c9ce" stroke-width="1"/>
<text x="743.4" y="125.5" font-size="15.5" text-anchor="end">1.6</text>
<line x1="757.3" y1="89.8" x2="1287.7" y2="89.8" stroke="#c9c9ce" stroke-width="1"/>
<text x="743.4" y="93.9" font-size="15.5" text-anchor="end">1.8</text>
<text transform="translate(700.9,229.7) rotate(-90)" font-size="15.7" text-anchor="middle" class="b" textLength="97.4" lengthAdjust="spacingAndGlyphs">Sharpe Ratio</text>
<rect x="785.2" y="198.5" width="25.2" height="176.2" fill="#ffc42e"/>
<rect x="817.3" y="279.7" width="25.2" height="95.0" fill="#6c4dff"/>
<rect x="849.4" y="228.3" width="25.2" height="146.4" fill="#19c585"/>
<rect x="881.5" y="229.5" width="25.2" height="145.2" fill="#666b9b"/>
<rect x="962.0" y="129.7" width="25.2" height="245.0" fill="#ffc42e"/>
<rect x="994.1" y="251.1" width="25.2" height="123.6" fill="#6c4dff"/>
<rect x="1026.2" y="142.3" width="25.2" height="232.4" fill="#19c585"/>
<rect x="1058.3" y="229.9" width="25.2" height="144.8" fill="#666b9b"/>
<rect x="1138.3" y="191.4" width="25.2" height="183.3" fill="#ffc42e"/>
<rect x="1170.4" y="323.9" width="25.2" height="50.8" fill="#6c4dff"/>
<rect x="1202.5" y="288.1" width="25.2" height="86.6" fill="#19c585"/>
<rect x="1234.6" y="248.9" width="25.2" height="125.8" fill="#666b9b"/>
<line x1="747.8" y1="216.3" x2="1291.3" y2="216.3" stroke="#16173a" stroke-width="2.7" stroke-dasharray="10.5 7.57"/>
<text x="846.5" y="399.0" font-size="14.8" text-anchor="middle" textLength="146.5" lengthAdjust="spacingAndGlyphs">Bull Market Sharpe</text>
<text x="846.5" y="417.4" font-size="14.8" text-anchor="middle" textLength="155.5" lengthAdjust="spacingAndGlyphs">Ratio Average (Since</text>
<text x="846.5" y="435.8" font-size="14.8" text-anchor="middle" textLength="124.5" lengthAdjust="spacingAndGlyphs">November 2022)</text>
<text x="1022.6" y="399.0" font-size="14.8" text-anchor="middle" textLength="152.9" lengthAdjust="spacingAndGlyphs">2-Year Sharpe Ratio</text>
<text x="1022.6" y="417.4" font-size="14.8" text-anchor="middle" textLength="141.3" lengthAdjust="spacingAndGlyphs">Average (2024 and</text>
<text x="1022.6" y="435.8" font-size="14.8" text-anchor="middle" textLength="42" lengthAdjust="spacingAndGlyphs">2025)</text>
<text x="1199.4" y="399.0" font-size="14.8" text-anchor="middle" textLength="160.6" lengthAdjust="spacingAndGlyphs">Year-To-Date Sharpe</text>
<text x="1199.4" y="417.4" font-size="14.8" text-anchor="middle" textLength="156.1" lengthAdjust="spacingAndGlyphs">Ratio Average (2025)</text>
</svg></body></html>
